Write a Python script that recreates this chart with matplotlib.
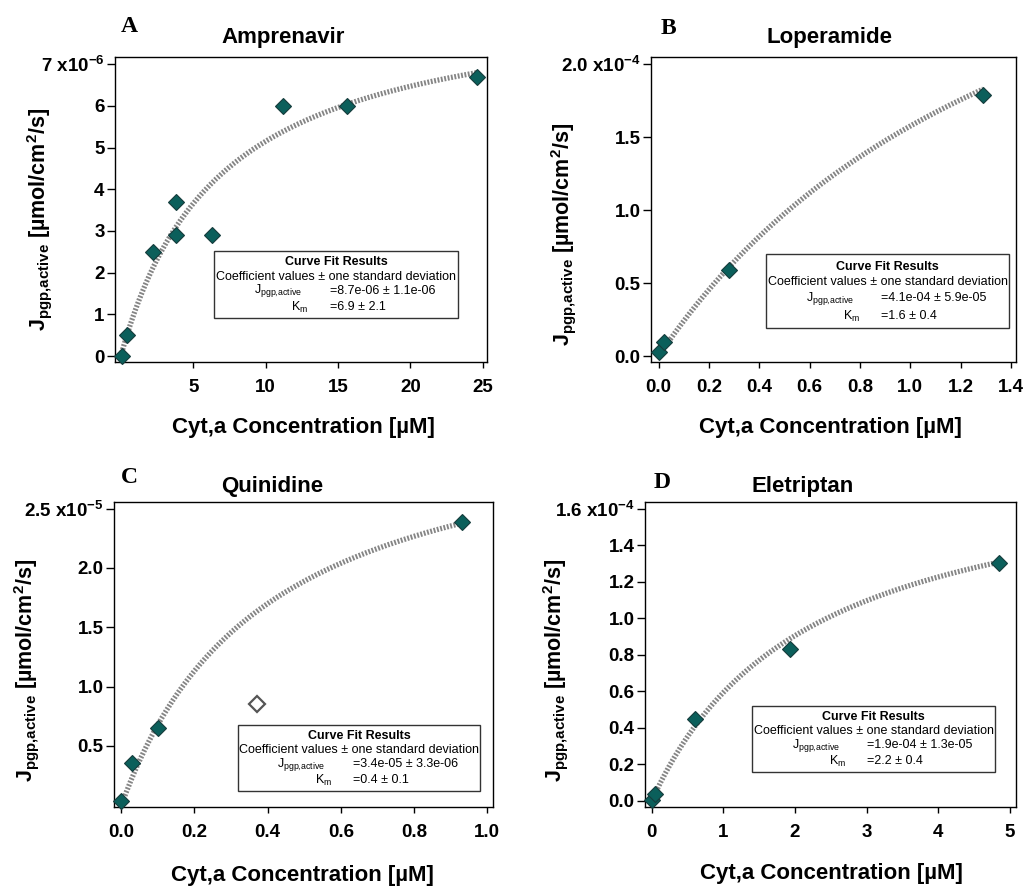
import numpy as np
import matplotlib
matplotlib.use("Agg")
import matplotlib.pyplot as plt
from matplotlib.patches import Rectangle

plt.rcParams['font.family'] = ['Liberation Sans', 'DejaVu Sans']
plt.rcParams['mathtext.fontset'] = 'custom'
plt.rcParams['mathtext.rm'] = 'Liberation Sans'
plt.rcParams['mathtext.bf'] = 'Liberation Sans:bold'
plt.rcParams['mathtext.it'] = 'Liberation Sans:italic'
plt.rcParams['mathtext.sf'] = 'Liberation Sans'

# ---------------- data ----------------
amp_x = [0.05, 0.45, 2.2, 3.8, 3.8, 6.3, 11.2, 15.6, 24.6]
amp_y = [0.0e-6, 0.5e-6, 2.5e-6, 3.7e-6, 2.9e-6, 2.9e-6, 6.0e-6, 6.0e-6, 6.7e-6]
amp_fit = [8.7e-6, 6.9]          # Jmax, Km
amp_fit_txt = ["=8.7e-06 ± 1.1e-06", "=6.9 ± 2.1"]

lop_x = [0.0, 0.02, 0.28, 1.29]
lop_y = [0.03e-4, 0.10e-4, 0.59e-4, 1.79e-4]
lop_fit = [4.1e-4, 1.6]
lop_fit_txt = ["=4.1e-04 ± 5.9e-05", "=1.6 ± 0.4"]

qui_x = [0.0, 0.03, 0.10, 0.93]
qui_y = [0.04e-5, 0.36e-5, 0.65e-5, 2.39e-5]
qui_excl_x = [0.37]
qui_excl_y = [0.85e-5]
qui_fit = [3.4e-5, 0.4]
qui_fit_txt = ["=3.4e-05 ± 3.3e-06", "=0.4 ± 0.1"]

ele_x = [0.0, 0.045, 0.61, 1.93, 4.84]
ele_y = [0.005e-4, 0.04e-4, 0.45e-4, 0.83e-4, 1.30e-4]
ele_fit = [1.9e-4, 2.2]
ele_fit_txt = ["=1.9e-04 ± 1.3e-05", "=2.2 ± 0.4"]

titles = ["Amprenavir", "Loperamide", "Quinidine", "Eletriptan"]
letters = ["A", "B", "C", "D"]
y_exponents = [-6, -4, -5, -4]
amp_yticks = [0, 1, 2, 3, 4, 5, 6, 7]
amp_xticks = [5, 10, 15, 20, 25]
lop_yticks = [0.0, 0.5, 1.0, 1.5, 2.0]
lop_xticks = [0.0, 0.2, 0.4, 0.6, 0.8, 1.0, 1.2, 1.4]
qui_yticks = [0.5, 1.0, 1.5, 2.0, 2.5]
qui_xticks = [0.0, 0.2, 0.4, 0.6, 0.8, 1.0]
ele_yticks = [0.0, 0.2, 0.4, 0.6, 0.8, 1.0, 1.2, 1.4, 1.6]
ele_xticks = [0, 1, 2, 3, 4, 5]

xlabel = "Cyt,a Concentration [µM]"
ylabel = r"$\mathbf{J}_{\mathbf{pgp{,}active}}$ [µmol/cm$^{\mathbf{2}}$/s]"

# ---------------- layout ----------------
W, H = 1026, 886
fig = plt.figure(figsize=(W / 100, H / 100), dpi=100)


def fx(x):
    return x / W


def fy(y):
    return 1 - y / H


panels = [
    dict(x=amp_x, y=amp_y, fit=amp_fit, txt=amp_fit_txt, yt=amp_yticks, xt=amp_xticks,
         yfmt="%d", xfmt="%d", box=(115, 487, 57, 362), xlim=(-0.4, 25.3), ylim=(-0.14, 7.17),
         bbox=(214, 458, 251, 318), letter_xy=(129, 26), title_xy=(283, 37),
         xlab_xy=(303, 428), ylab_xy=(40, 219)),
    dict(x=lop_x, y=lop_y, fit=lop_fit, txt=lop_fit_txt, yt=lop_yticks, xt=lop_xticks,
         yfmt="%.1f", xfmt="%.1f", box=(651, 1016, 57, 362), xlim=(-0.03, 1.42), ylim=(-0.04, 2.05),
         bbox=(766, 1009, 254, 328), letter_xy=(668, 28), title_xy=(829, 37),
         xlab_xy=(830, 428), ylab_xy=(563, 234)),
    dict(x=qui_x, y=qui_y, fit=qui_fit, txt=qui_fit_txt, yt=qui_yticks, xt=qui_xticks,
         yfmt="%.1f", xfmt="%.1f", box=(114, 493, 502, 807), xlim=(-0.02, 1.016), ylim=(-0.014, 2.556),
         bbox=(238, 480, 725, 791), letter_xy=(129, 478), title_xy=(272, 486),
         xlab_xy=(302, 875), ylab_xy=(27, 670)),
    dict(x=ele_x, y=ele_y, fit=ele_fit, txt=ele_fit_txt, yt=ele_yticks, xt=ele_xticks,
         yfmt="%.1f", xfmt="%d", box=(645, 1016, 502, 807), xlim=(-0.093, 5.084), ylim=(-0.033, 1.636),
         bbox=(752, 995, 706, 772), letter_xy=(662, 483), title_xy=(803, 486),
         xlab_xy=(831, 873), ylab_xy=(555, 670)),
]

marker_face = "#0b5f5b"
marker_edge = "#163c3c"
fit_color = "#858585"
box_fs = 9

for i, p in enumerate(panels):
    l, r, t, b = p["box"]
    ax = fig.add_axes([fx(l), fy(b), (r - l) / W, (b - t) / H])
    scale = 10.0 ** y_exponents[i]
    ax.set_xlim(*p["xlim"])
    ax.set_ylim(*p["ylim"])

    # fit curve (Michaelis-Menten with reported parameters)
    jmax, km = p["fit"]
    xs = np.linspace(0, max(p["x"]), 300)
    ax.plot(xs, jmax * xs / (km + xs) / scale, color=fit_color, lw=3.8,
            ls=(0, (0.35, 0.3)), zorder=2, solid_capstyle="butt")

    ax.plot(p["x"], np.array(p["y"]) / scale, ls="none", marker="D", ms=7.8,
            mfc=marker_face, mec=marker_edge, mew=0.8, zorder=3, clip_on=False)
    if i == 2:
        ax.plot(qui_excl_x, np.array(qui_excl_y) / scale, ls="none", marker="D", ms=7.8,
                mfc="white", mec="#555555", mew=1.6, zorder=3)

    ylabels = [p["yfmt"] % v for v in p["yt"]]
    ylabels[-1] = ylabels[-1] + r" x10$^{\mathbf{%d}}$" % y_exponents[i]
    ax.set_yticks(p["yt"], ylabels, fontsize=13.5, fontweight="bold")
    ax.set_xticks(p["xt"], [p["xfmt"] % v for v in p["xt"]], fontsize=13.5, fontweight="bold")
    ax.tick_params(axis="y", direction="out", length=6, width=1, pad=1.5)
    ax.tick_params(axis="x", direction="out", length=4, width=1, pad=8)
    for s in ax.spines.values():
        s.set_linewidth(1)

    # curve fit results box
    bl, br, bt, bb = p["bbox"]
    bw, bh = br - bl, bb - bt
    fig.patches.append(Rectangle((fx(bl), fy(bb)), bw / W, bh / H, transform=fig.transFigure,
                                 facecolor="white", edgecolor="#333333", lw=1, zorder=5))
    cx = bl + bw * 0.5
    fig.text(fx(cx), fy(bt + bh * 0.17), "Curve Fit Results", ha="center", va="center",
             fontsize=box_fs, fontweight="bold", zorder=6)
    fig.text(fx(cx), fy(bt + bh * 0.385), "Coefficient values ± one standard deviation",
             ha="center", va="center", fontsize=box_fs, zorder=6)
    fig.text(fx(bl + bw * 0.262), fy(bt + bh * 0.595), r"J$_{\mathrm{pgp{,}active}}$",
             ha="center", va="center", fontsize=box_fs, zorder=6)
    fig.text(fx(bl + bw * 0.475), fy(bt + bh * 0.595), p["txt"][0],
             ha="left", va="center", fontsize=box_fs, zorder=6)
    fig.text(fx(bl + bw * 0.352), fy(bt + bh * 0.84), r"K$_{\mathrm{m}}$",
             ha="center", va="center", fontsize=box_fs, zorder=6)
    fig.text(fx(bl + bw * 0.475), fy(bt + bh * 0.84), p["txt"][1],
             ha="left", va="center", fontsize=box_fs, zorder=6)

    # labels
    lx, ly = p["letter_xy"]
    fig.text(fx(lx), fy(ly), letters[i], ha="center", va="center", fontsize=17,
             fontweight="bold", family="Liberation Serif")
    tx, ty = p["title_xy"]
    fig.text(fx(tx), fy(ty), titles[i], ha="center", va="center", fontsize=16, fontweight="bold")
    xx, xy = p["xlab_xy"]
    fig.text(fx(xx), fy(xy), xlabel, ha="center", va="center", fontsize=16, fontweight="bold")
    yx, yy = p["ylab_xy"]
    fig.text(fx(yx), fy(yy), ylabel, ha="center", va="center", fontsize=15.5, fontweight="bold",
             rotation=90)

fig.savefig("out.png", dpi=100)
